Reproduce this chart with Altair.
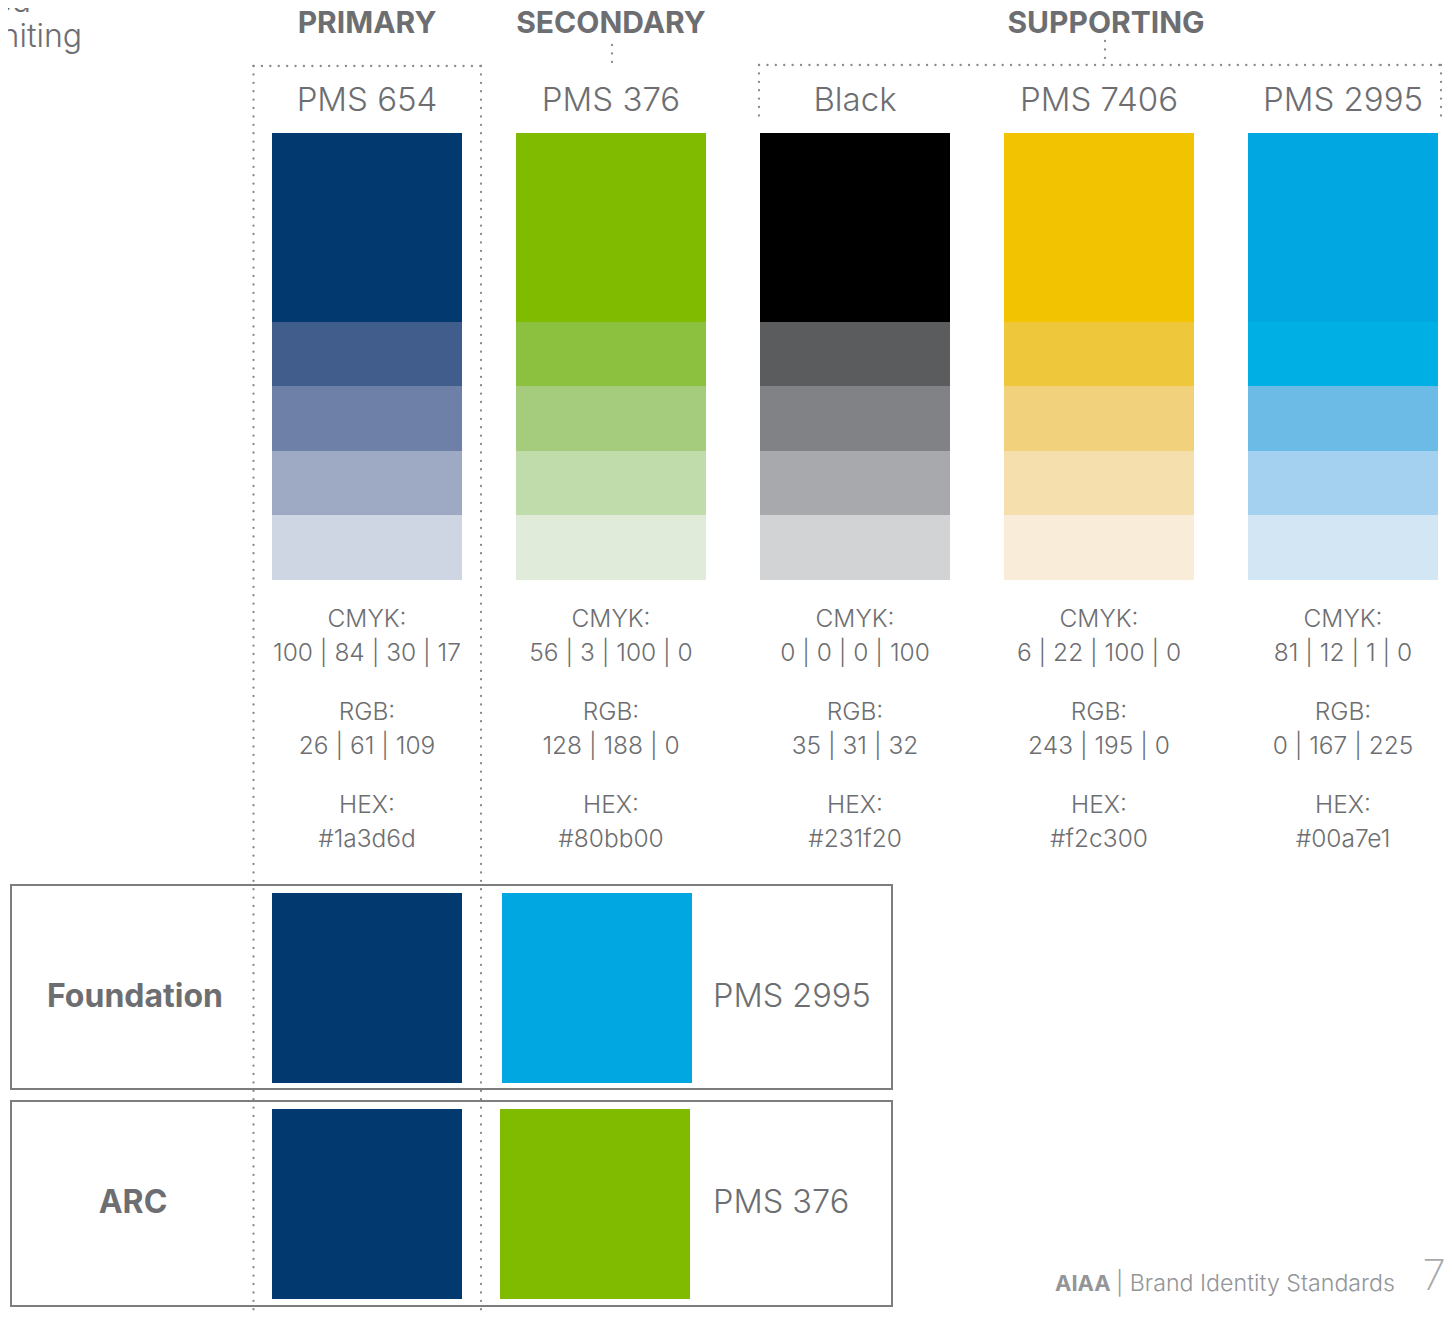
import altair as alt
import pandas as pd

# ---------------- data ----------------
groups = ["PRIMARY", "SECONDARY", "SUPPORTING"]
columns = ["PMS 654", "PMS 376", "Black", "PMS 7406", "PMS 2995"]
cmyk = ["100 | 84 | 30 | 17", "56 | 3 | 100 | 0", "0 | 0 | 0 | 100", "6 | 22 | 100 | 0", "81 | 12 | 1 | 0"]
rgb = ["26 | 61 | 109", "128 | 188 | 0", "35 | 31 | 32", "243 | 195 | 0", "0 | 167 | 225"]
hexes = ["#1a3d6d", "#80bb00", "#231f20", "#f2c300", "#00a7e1"]
tints = [
    ["#023a6f", "#415d8b", "#6e80a8", "#9eaac4", "#ced5e3"],
    ["#80bb00", "#8cc140", "#a5cc7c", "#c1dcab", "#e0ecd9"],
    ["#000000", "#5b5c5e", "#818285", "#a8a9ac", "#d2d3d5"],
    ["#f2c300", "#efc73a", "#f2d17d", "#f5dfac", "#f9edd9"],
    ["#00a7e1", "#00afe3", "#6bbbe6", "#a3d1ef", "#d2e6f4"],
]
combos = ["Foundation", "ARC"]
combo_names = ["PMS 2995", "PMS 376"]
combo_colors = [["#023a6f", "#00a7e1"], ["#023a6f", "#80bb00"]]
footer_brand = "AIAA"
footer_text = "| Brand Identity Standards"
page_number = "7"
corner_text = ["ed", "hiting"]

# ---------------- layout (page pixels) ----------------
GRAY = "#6d6e71"
DOT = "#8a8a8d"
FONT = "Inter"
COL_LEFT = 272
PITCH = 244
SW = 190
BAND_EDGES = [133, 322, 386, 451, 515, 580]

def col_left(i):
    return COL_LEFT + PITCH * i

X = lambda f: alt.X(f, type="quantitative", scale=alt.Scale(domain=[8, 1444], nice=False, zero=False), axis=None)
Y = lambda f: alt.Y(f, type="quantitative", scale=alt.Scale(domain=[8, 1312], nice=False, zero=False, reverse=True), axis=None)

# swatch bands
rows = []
for i, cols in enumerate(tints):
    for j, c in enumerate(cols):
        rows.append(dict(x=col_left(i), x2=col_left(i) + SW, y=BAND_EDGES[j], y2=BAND_EDGES[j + 1], color=c))
# combo squares
combo_top = [893, 1109]
combo_second_left = [502, 500]
for k in range(len(combos)):
    c1, c2 = combo_colors[k]
    t = combo_top[k]
    rows.append(dict(x=272, x2=462, y=t, y2=t + 190, color=c1))
    rows.append(dict(x=combo_second_left[k], x2=combo_second_left[k] + 190, y=t, y2=t + 190, color=c2))
sw_df = pd.DataFrame(rows)

swatches = alt.Chart(sw_df).mark_rect().encode(
    x=X("x"), x2="x2", y=Y("y"), y2="y2", fill=alt.Fill("color:N", scale=None)
)

# outline boxes
box_df = pd.DataFrame([
    dict(x=11, x2=892, y=885, y2=1089, name=combos[0]),
    dict(x=11, x2=892, y=1101, y2=1306, name=combos[1]),
])
boxes = alt.Chart(box_df).mark_rect(fill=None, stroke="#7d7d7f", strokeWidth=2).encode(
    x=X("x"), x2="x2", y=Y("y"), y2="y2"
)

# dotted guide lines
dot_df = pd.DataFrame([
    dict(x=253.5, x2=253.5, y=66, y2=1320),
    dict(x=481, x2=481, y=66, y2=1320),
    dict(x=253.5, x2=481, y=66, y2=66),
    dict(x=612, x2=612, y=45, y2=64),
    dict(x=759, x2=1441, y=65, y2=65),
    dict(x=759, x2=759, y=65, y2=120),
    dict(x=1441, x2=1441, y=65, y2=120),
    dict(x=1105, x2=1105, y=41, y2=65),
])
dots = alt.Chart(dot_df).mark_rule(
    color=DOT, strokeWidth=2.3, strokeCap="round", strokeDash=[0.1, 8.3]
).encode(x=X("x"), x2="x2", y=Y("y"), y2="y2")

# group headers
hdr_df = pd.DataFrame(dict(text=groups, x=[367, 611, 1106], y=[24, 24, 24]))
headers = alt.Chart(hdr_df).mark_text(
    font=FONT, fontSize=30, fontWeight="bold", color=GRAY, baseline="middle", align="center"
).encode(x=X("x"), y=Y("y"), text="text:N")

# column names
name_df = pd.DataFrame(dict(text=columns, x=[col_left(i) + SW / 2 for i in range(5)], y=[101] * 5))
names = alt.Chart(name_df).mark_text(
    font=FONT, fontSize=33, fontWeight=300, color=GRAY, baseline="middle", align="center"
).encode(x=X("x"), y=Y("y"), text="text:N")

# info lines
info_rows = []
line_y = [620, 654, 713, 747, 806, 840]
for i in range(5):
    vals = ["CMYK:", cmyk[i], "RGB:", rgb[i], "HEX:", hexes[i]]
    for v, yy in zip(vals, line_y):
        info_rows.append(dict(text=v, x=col_left(i) + SW / 2, y=yy))
info = alt.Chart(pd.DataFrame(info_rows)).mark_text(
    font=FONT, fontSize=24.5, fontWeight=300, color=GRAY, baseline="middle", align="center"
).encode(x=X("x"), y=Y("y"), text="text:N")

# combo labels
cl_df = pd.DataFrame(dict(text=combos, x=[135, 133], y=[997, 1203]))
combo_labels = alt.Chart(cl_df).mark_text(
    font=FONT, fontSize=32, fontWeight="bold", color=GRAY, baseline="middle", align="center"
).encode(x=X("x"), y=Y("y"), text="text:N")

cn_df = pd.DataFrame(dict(text=combo_names, x=[713, 713], y=[997, 1203]))
combo_name_labels = alt.Chart(cn_df).mark_text(
    font=FONT, fontSize=32.5, fontWeight=300, color=GRAY, baseline="middle", align="left"
).encode(x=X("x"), y=Y("y"), text="text:N")

# footer
fb = alt.Chart(pd.DataFrame(dict(text=[footer_brand], x=[1055], y=[1284]))).mark_text(
    font=FONT, fontSize=22, fontWeight="bold", color="#939598", baseline="middle", align="left"
).encode(x=X("x"), y=Y("y"), text="text:N")
ft = alt.Chart(pd.DataFrame(dict(text=[footer_text], x=[1116], y=[1284]))).mark_text(
    font=FONT, fontSize=23.2, fontWeight=300, color="#939598", baseline="middle", align="left"
).encode(x=X("x"), y=Y("y"), text="text:N")
pn = alt.Chart(pd.DataFrame(dict(text=[page_number], x=[1434], y=[1277]))).mark_text(
    font=FONT, fontSize=42, fontWeight=200, color="#a7a9ac", baseline="middle", align="center"
).encode(x=X("x"), y=Y("y"), text="text:N")

# cut-off corner text
corner = alt.Chart(pd.DataFrame(dict(text=corner_text, x=[31, 82], y=[2, 37]))).mark_text(
    font=FONT, fontSize=32, fontWeight=300, color=GRAY, baseline="middle", align="right"
).encode(x=X("x"), y=Y("y"), text="text:N")

chart = alt.layer(
    swatches, boxes, dots, headers, names, info, combo_labels, combo_name_labels, fb, ft, pn, corner
).properties(
    width=1436, height=1304, autosize=alt.AutoSizeParams(type="none"), padding=0
).configure_view(stroke=None)

chart.save("out.html", embed_options={"renderer": "svg", "actions": False})
